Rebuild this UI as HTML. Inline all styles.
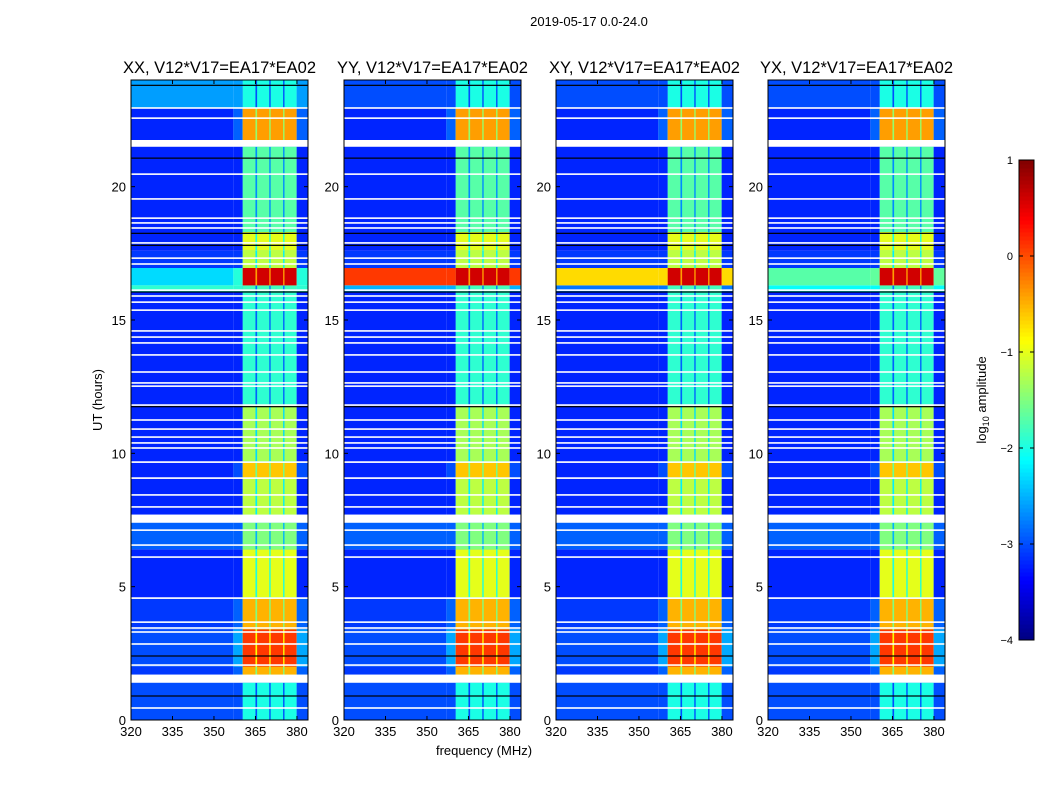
<!DOCTYPE html>
<html><head><meta charset="utf-8"><style>
html,body{margin:0;padding:0;background:#fff;}
svg text{font-family:"Liberation Sans",sans-serif;}
</style></head><body>
<svg id="c" width="1050" height="800" viewBox="0 0 1050 800">
<rect width="1050" height="800" fill="#fff"/>
<text x="589" y="26" font-size="13" text-anchor="middle">2019-05-17 0.0-24.0</text>
<text transform="translate(102,400) rotate(-90)" font-size="13" text-anchor="middle">UT (hours)</text>
<text x="484" y="755" font-size="13" text-anchor="middle">frequency (MHz)</text>
<text transform="translate(986,400) rotate(-90)" font-size="13" text-anchor="middle">log<tspan font-size="9" dy="3">10</tspan><tspan dy="-3"> amplitude</tspan></text>
</svg>
<script>
// ---- data ----
const panelTitles = ["XX, V12*V17=EA17*EA02","YY, V12*V17=EA17*EA02","XY, V12*V17=EA17*EA02","YX, V12*V17=EA17*EA02"];
const segStart = [0, 1.7, 2.0, 3.4, 4.6, 6.4, 7.7, 9.1, 9.7, 11.8, 16.05, 16.3, 16.95, 17.6, 18.3, 21.75, 22.95];
const segEnd   = [1.4, 2.0, 3.4, 4.6, 6.4, 7.4, 9.1, 9.7, 11.8, 16.05, 16.3, 16.95, 17.6, 18.3, 21.5, 22.95, 24];
const bandLevel = [-2.0, -0.5, 0.1, -0.5, -1.0, -1.5, -1.2, -0.6, -1.3, -1.9, -1.8, 0.6, -1.2, -1.0, -1.7, -0.4, -2.0];
const bgLevelXX = [-3.0, -3.1, -3.0, -3.1, -3.2, -2.9, -3.2, -3.2, -3.2, -3.2, -1.9, -2.3, -3.1, -3.2, -3.2, -3.2, -2.6];
const bgLevelYY = [-3.0, -3.1, -3.0, -3.1, -3.2, -2.9, -3.2, -3.2, -3.2, -3.2, -2.5, 0.1, -3.1, -3.2, -3.2, -3.2, -3.0];
const bgLevelXY = [-3.0, -3.1, -3.0, -3.1, -3.2, -2.9, -3.2, -3.2, -3.2, -3.2, -2.8, -0.7, -3.1, -3.2, -3.2, -3.2, -3.0];
const bgLevelYX = [-3.0, -3.1, -3.0, -3.1, -3.2, -2.9, -3.2, -3.2, -3.2, -3.2, -2.1, -1.7, -3.1, -3.2, -3.2, -3.2, -3.0];
const bandStart = [360.4, 365.6, 370.5, 375.5];
const bandEnd   = [365.0, 370.0, 375.0, 379.9];
const flagThin = [22.95,22.57,20.47,19.54,18.82,18.64,18.45,17.89,17.32,17.1,16.12,15.9,15.67,15.37,14.59,14.36,14.14,13.69,13.05,12.64,12.52,11.81,11.25,10.91,10.61,10.39,10.2,9.67,9.07,8.44,7.99,7.12,6.56,6.11,4.57,3.67,3.45,3.3,2.85,2.06,0.45];
const flagThickStart = [21.5, 7.4, 1.4];
const flagThickEnd = [21.75, 7.7, 1.7];
const blackLines = [23.8, 21.07, 18.25, 17.8, 16.05, 11.75, 2.4, 0.9];
const xTicks = [320,335,350,365,380];
const yTicks = [0,5,10,15,20];
const cbTicks = [1,0,-1,-2,-3,-4];
// ---- layout ----
const bgLevels = [bgLevelXX,bgLevelYY,bgLevelXY,bgLevelYX];
const panelLeft = [131,344,556,768];
const PW=177, PT=80, PH=640, F0=320, F1=384, T1=24;
const NS="http://www.w3.org/2000/svg";
const svg=document.getElementById('c');
function mk(tag,at,parent){const e=document.createElementNS(NS,tag);for(const k in at)e.setAttribute(k,at[k]);(parent||svg).appendChild(e);return e;}
function jet(v){let t=(v+4)/5;t=Math.max(0,Math.min(1,t));const c=x=>Math.round(255*Math.max(0,Math.min(1,x)));
 return `rgb(${c(1.5-Math.abs(4*t-3))},${c(1.5-Math.abs(4*t-2))},${c(1.5-Math.abs(4*t-1))})`;}
panelLeft.forEach((L,p)=>{
 const xs=f=>L+(f-F0)/(F1-F0)*PW;
 const ys=t=>PT+PH-(t/T1)*PH;
 const g=mk('g',{});
 
 
 mk('rect',{x:L,y:PT,width:PW,height:PH,fill:'#fff'},g);
 const bg=bgLevels[p];
 for(let i=0;i<segStart.length;i++){
  const y0=ys(segEnd[i]),y1=ys(segStart[i]),h=y1-y0;
  const bl=bandLevel[i],bgl=bg[i];
  let r=mk('rect',{x:xs(F0),y:y0,width:xs(357)-xs(F0),height:h,fill:jet(bgl)},g);
  
  
  const sh=bl>-1.1?Math.max(bgl,(bl-2.2+bgl)/2):bgl;
  r=mk('rect',{x:xs(357),y:y0,width:xs(360.4)-xs(357),height:h,fill:jet(sh)},g);
  
  
  r=mk('rect',{x:xs(360.4),y:y0,width:xs(379.9)-xs(360.4),height:h,fill:jet(bl-1.0)},g);
  
  
  for(let b=0;b<bandStart.length;b++){
   r=mk('rect',{x:xs(bandStart[b]),y:y0,width:xs(bandEnd[b])-xs(bandStart[b]),height:h,fill:jet(bl)},g);
   
   
  }
  r=mk('rect',{x:xs(379.9),y:y0,width:xs(F1)-xs(379.9),height:h,fill:jet(Math.max(bgl,sh))},g);
  
  
 }
 flagThin.forEach(t=>{const l=mk('rect',{x:L,y:ys(t)-0.8,width:PW,height:1.6,fill:'#fff'},g);
  
  });
 flagThickStart.forEach((t,i)=>{const l=mk('rect',{x:L,y:ys(flagThickEnd[i]),width:PW,height:ys(t)-ys(flagThickEnd[i]),fill:'#fff'},g);
  
  });
 blackLines.forEach(t=>{const l=mk('rect',{x:L,y:ys(t)-0.6,width:PW,height:1.2,fill:'#000'},g);
  
  });
 mk('rect',{x:L,y:PT,width:PW,height:PH,fill:'none',stroke:'#000','stroke-width':1},g);
 const tt=mk('text',{x:L+PW/2,y:PT-7,'font-size':16.5,'text-anchor':'middle'});
 tt.textContent=panelTitles[p];
 
 
 xTicks.forEach(f=>{const x=xs(f);
  mk('line',{x1:x,x2:x,y1:PT+PH,y2:PT+PH-4,stroke:'#000'});
  mk('line',{x1:x,x2:x,y1:PT,y2:PT+4,stroke:'#000'});
  const t=mk('text',{x:x,y:PT+PH+16,'font-size':13,'text-anchor':'middle'});t.textContent=f;
  
  });
 yTicks.forEach(v=>{const y=ys(v);
  mk('line',{x1:L,x2:L+4,y1:y,y2:y,stroke:'#000'});
  mk('line',{x1:L+PW,x2:L+PW-4,y1:y,y2:y,stroke:'#000'});
  const t=mk('text',{x:L-5,y:y+5,'font-size':13,'text-anchor':'end'});t.textContent=v;
  
  });
});
// colorbar
const CX=1019,CW=15,CT=160,CH=480;
const cy=v=>CT+(1-v)/5*CH;
const cb=mk('g',{});


for(let i=0;i<120;i++){const v0=-4+5*i/120,v1=-4+5*(i+1)/120;
 mk('rect',{x:CX,y:cy(v1),width:CW,height:cy(v0)-cy(v1)+0.5,fill:jet((v0+v1)/2)},cb);}
mk('rect',{x:CX,y:CT,width:CW,height:CH,fill:'none',stroke:'#000'},cb);
cbTicks.forEach(v=>{const y=cy(v);
 mk('line',{x1:CX,x2:CX+4,y1:y,y2:y,stroke:'#000'},cb);
 mk('line',{x1:CX+CW,x2:CX+CW-4,y1:y,y2:y,stroke:'#000'},cb);
 const t=mk('text',{x:CX-6,y:y+4,'font-size':11,'text-anchor':'end'},cb);t.textContent=v<0?'\u2212'+(-v):v;
 
 });
</script>
</body></html>
